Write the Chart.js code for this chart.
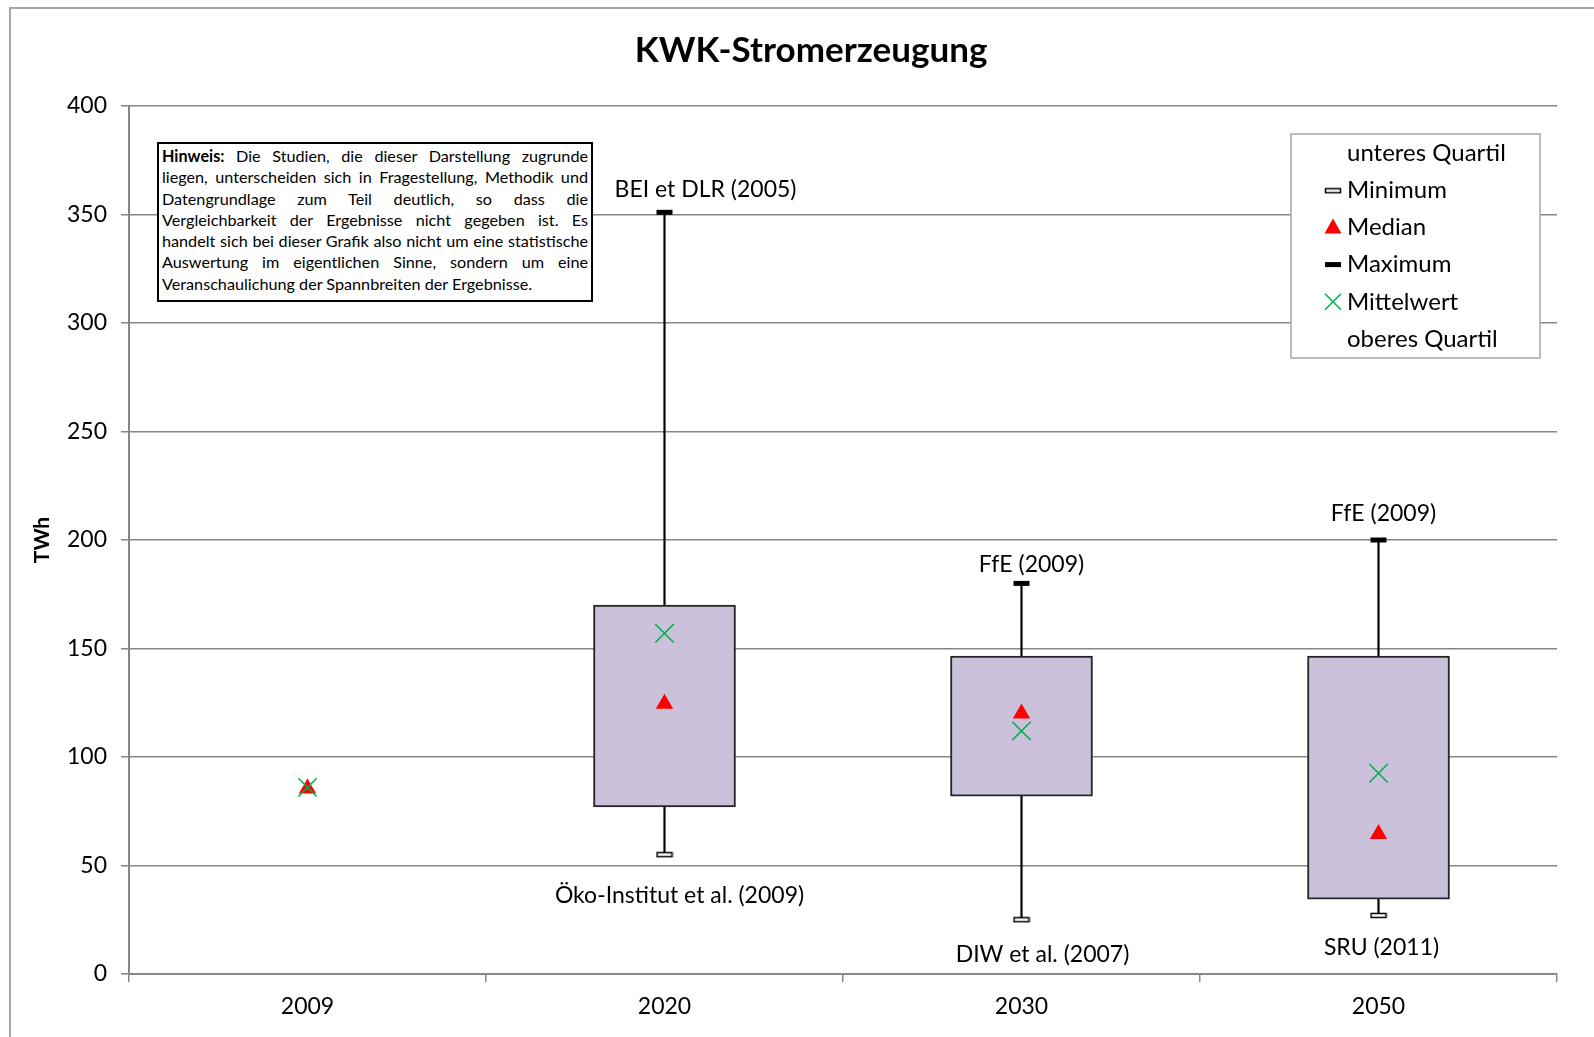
<!DOCTYPE html>
<html>
<head>
<meta charset="utf-8">
<script src="https://cdn.jsdelivr.net/npm/chart.js@4/dist/chart.umd.min.js"></script>
<style>
  body { margin: 0; background: #fff; }
  #wrap { position: relative; width: 1594px; height: 1037px; }
  #note {
    position: absolute; left: 157px; top: 142px; width: 426px; height: 155px;
    border: 2px solid #000; padding: 1px 3px 0 3px; background: #fff;
    font-family: Lato, sans-serif; font-size: 16.2px; line-height: 21.3px;
    text-align: justify; color: #000;
  }
</style>
</head>
<body>
<div id="wrap">
  <canvas id="chart"></canvas>
  <div id="note"><b>Hinweis:</b> Die Studien, die dieser Darstellung zugrunde liegen, unterscheiden sich in Fragestellung, Methodik und Datengrundlage zum Teil deutlich, so dass die Vergleichbarkeit der Ergebnisse nicht gegeben ist. Es handelt sich bei dieser Grafik also nicht um eine statistische Auswertung im eigentlichen Sinne, sondern um eine Veranschaulichung der Spannbreiten der Ergebnisse.</div>
</div>
<script>
// Data
const categories = ['2009', '2020', '2030', '2050'];
const minimum = [null, 55, 25, 27];
const lowerQuartile = [null, 77, 82, 34.5];
const upperQuartile = [null, 170, 146.5, 146.5];
const maximum = [null, 351, 180, 200];
const median = [85.5, 124.5, 120, 64.5];
const mean = [86, 157, 112, 92.5];
const maxLabels = [null, 'BEI et DLR (2005)', 'FfE (2009)', 'FfE (2009)'];
const minLabels = [null, 'Öko-Institut et al. (2009)', 'DIW et al. (2007)', 'SRU (2011)'];

// label nudges (px), like hand-placed Excel data labels
const maxLabelShift = [null, [41, -23], [10, -19], [5, -26]];
const minLabelShift = [null, [15, 41], [21, 35], [3, 32]];

const FONT = 'Lato, sans-serif';
const boxColor = '#ccc1da';
const gridColor = '#878787';

// hollow minimum marker
const minMarker = document.createElement('canvas');
minMarker.width = 18; minMarker.height = 7;
(function() {
  const c = minMarker.getContext('2d');
  c.fillStyle = '#fff';
  c.fillRect(1, 1, 16, 5);
  c.strokeStyle = '#000';
  c.lineWidth = 1.5;
  c.strokeRect(1.5, 1.5, 15, 4);
})();

const whiskers = categories.map((c, i) => minimum[i] == null ? null : [minimum[i], maximum[i]]);
const boxes = categories.map((c, i) => lowerQuartile[i] == null ? null : [lowerQuartile[i], upperQuartile[i]]);

const extrasPlugin = {
  id: 'extras',
  beforeDraw(chart) {
    const ctx = chart.ctx;
    ctx.save();
    ctx.strokeStyle = '#a6a6a6';
    ctx.lineWidth = 2;
    ctx.beginPath();
    ctx.moveTo(10, 1100);
    ctx.lineTo(10, 8);
    ctx.lineTo(1700, 8);
    ctx.stroke();
    ctx.restore();
  },
  afterDraw(chart) {
    const ctx = chart.ctx;
    const x = chart.scales.x, y = chart.scales.y;
    ctx.save();

    // title
    ctx.fillStyle = '#000';
    ctx.font = 'bold 35px ' + FONT;
    ctx.textAlign = 'center';
    ctx.textBaseline = 'middle';
    ctx.fillText('KWK-Stromerzeugung', 811, 51);

    // study labels at max / min
    ctx.font = '23px ' + FONT;
    categories.forEach((c, i) => {
      const cx = x.getPixelForValue(i);
      if (maxLabels[i]) {
        ctx.fillText(maxLabels[i], cx + maxLabelShift[i][0], y.getPixelForValue(maximum[i]) + maxLabelShift[i][1]);
      }
      if (minLabels[i]) {
        ctx.fillText(minLabels[i], cx + minLabelShift[i][0], y.getPixelForValue(minimum[i]) + minLabelShift[i][1]);
      }
    });

    // legend box
    const lx = 1291, ly = 134, lw = 249, lh = 224;
    ctx.fillStyle = '#fff';
    ctx.fillRect(lx, ly, lw, lh);
    ctx.strokeStyle = '#a6a6a6';
    ctx.lineWidth = 1.5;
    ctx.strokeRect(lx, ly, lw, lh);
    const items = ['unteres Quartil', 'Minimum', 'Median', 'Maximum', 'Mittelwert', 'oberes Quartil'];
    const mx = 1333, tx = 1347;
    ctx.font = '24px ' + FONT;
    ctx.textAlign = 'left';
    items.forEach((t, k) => {
      const iy = 153 + k * 37.2;
      ctx.fillStyle = '#000';
      ctx.fillText(t, tx, iy);
      if (t === 'Minimum') {
        ctx.drawImage(minMarker, mx - 9, iy - 3);
      } else if (t === 'Median') {
        ctx.fillStyle = '#ff0000';
        ctx.beginPath();
        ctx.moveTo(mx, iy - 9);
        ctx.lineTo(mx + 8.5, iy + 6);
        ctx.lineTo(mx - 8.5, iy + 6);
        ctx.closePath();
        ctx.fill();
      } else if (t === 'Maximum') {
        ctx.fillStyle = '#000';
        ctx.fillRect(mx - 8, iy - 2.5, 16, 5);
      } else if (t === 'Mittelwert') {
        ctx.strokeStyle = '#00b050';
        ctx.lineWidth = 1.5;
        ctx.beginPath();
        ctx.moveTo(mx - 8, iy - 8); ctx.lineTo(mx + 8, iy + 8);
        ctx.moveTo(mx + 8, iy - 8); ctx.lineTo(mx - 8, iy + 8);
        ctx.stroke();
      }
    });
    ctx.restore();
  }
};

new Chart(document.getElementById('chart'), {
  type: 'bar',
  data: {
    labels: categories,
    datasets: [
      {
        label: 'Spannweite',
        data: whiskers,
        backgroundColor: '#000',
        barThickness: 1.5,
        grouped: false,
        order: 10
      },
      {
        label: 'Quartile',
        data: boxes,
        backgroundColor: boxColor,
        borderColor: '#262626',
        borderWidth: 2,
        borderSkipped: false,
        barThickness: 142,
        grouped: false,
        order: 9
      },
      {
        type: 'line',
        label: 'Minimum',
        data: minimum,
        showLine: false,
        pointStyle: minMarker,
        order: 4
      },
      {
        type: 'line',
        label: 'Maximum',
        data: maximum,
        showLine: false,
        pointStyle: 'line',
        pointRadius: 8,
        pointBorderWidth: 5,
        pointBorderColor: '#000',
        order: 3
      },
      {
        type: 'line',
        label: 'Median',
        data: median,
        showLine: false,
        pointStyle: 'triangle',
        pointRadius: 10,
        pointBackgroundColor: '#ff0000',
        pointBorderColor: '#ff0000',
        pointBorderWidth: 0,
        order: 2
      },
      {
        type: 'line',
        label: 'Mittelwert',
        data: mean,
        showLine: false,
        pointStyle: 'crossRot',
        pointRadius: 13,
        pointBorderColor: '#00b050',
        pointBorderWidth: 1.5,
        order: 1
      }
    ]
  },
  options: {
    responsive: true,
    maintainAspectRatio: false,
    animation: false,
    layout: { padding: { top: 106, left: 20, right: 37, bottom: 0 } },
    plugins: {
      legend: { display: false },
      title: { display: false },
      tooltip: { enabled: false }
    },
    scales: {
      x: {
        afterFit(scale) { scale.height = 63; },
        grid: {
          display: true,
          drawOnChartArea: false,
          offset: true,
          color: gridColor,
          lineWidth: 1.5,
          tickLength: 8
        },
        border: { color: gridColor, width: 2 },
        ticks: { color: '#000', font: { family: FONT, size: 23 }, padding: 11 }
      },
      y: {
        min: 0,
        max: 400,
        afterFit(scale) { scale.width = 109; },
        ticks: { stepSize: 50, color: '#000', font: { family: FONT, size: 23 }, padding: 14 },
        grid: { color: gridColor, lineWidth: 1.5, tickLength: 8 },
        border: { color: gridColor, width: 2 },
        title: {
          display: true,
          text: 'TWh',
          color: '#000',
          font: { family: FONT, size: 21, weight: 'bold' },
          padding: { top: 10, bottom: 0 }
        }
      }
    }
  },
  plugins: [extrasPlugin]
});
</script>
</body>
</html>
